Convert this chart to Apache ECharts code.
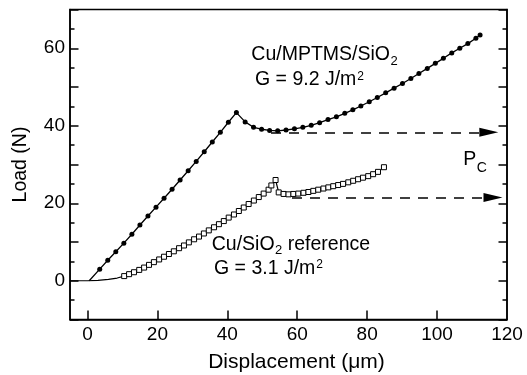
<!DOCTYPE html>
<html><head><meta charset="utf-8">
<script src="https://cdn.jsdelivr.net/npm/echarts@6/dist/echarts.min.js"></script>
<style>html,body{margin:0;padding:0;background:#fff}#c{width:527px;height:375px}</style>
</head><body><div id="c"></div>
<script>
// ---- data ----
const xTickValues = [0, 20, 40, 60, 80, 100, 120];
const xTickMarks = [0, 20, 40, 60, 80, 100];
const yLabelValues = [0, 20, 40, 60];

// Cu/MPTMS/SiO2 curve
const upperStartX = [0.5];
const upperStartY = [0];
const upperX = [3.5,5.8,8.1,10.4,12.7,15.0,17.3,19.6,21.9,24.2,26.5,28.8,31.1,33.4,35.7,38.0,40.3,42.6,
  45.1,47.5,49.8,52.1,54.4,56.8,59.2,61.6,64.0,66.4,68.8,71.2,73.6,75.9,78.2,80.6,82.9,85.3,87.7,90.1,
  92.5,94.8,97.2,99.5,101.8,104.2,106.5,108.8,111.1,112.3];
const upperY = [3.0,5.3,7.5,9.7,12.0,14.4,16.7,19.0,21.3,23.6,26.0,28.4,30.8,33.3,35.8,38.3,40.9,43.4,
  41.0,39.6,39.1,38.8,38.7,38.9,39.2,39.6,40.1,40.8,41.6,42.3,43.2,44.1,45.1,46.2,47.3,48.5,49.7,50.9,
  52.2,53.5,54.8,56.1,57.4,58.8,60.0,61.2,62.6,63.4];

// Cu/SiO2 reference curve (lead-in line, then square markers)
const leadX = [-5, 0, 3, 6, 8.5];
const leadY = [0, 0, 0.1, 0.35, 0.7];
const lowerX = [10.5,11.9,13.3,14.8,16.2,17.6,19.0,20.5,21.9,23.3,24.7,26.2,27.6,29.0,30.5,31.9,33.3,34.7,
  36.2,37.6,39.0,40.4,41.9,43.3,44.7,46.1,47.6,49.0,50.4,51.8,52.6,53.8,54.7,56.1,57.5,58.9,60.3,61.8,
  63.2,64.6,66.0,67.5,68.9,70.3,71.7,73.1,74.6,76.0,77.4,78.8,80.3,81.7,83.1,84.8];
const lowerY = [1.2,1.7,2.2,2.8,3.4,4.1,4.8,5.5,6.2,6.9,7.6,8.4,9.1,9.9,10.7,11.4,12.2,13.0,
  13.8,14.6,15.4,16.3,17.1,18.0,18.9,19.8,20.7,21.6,22.5,23.5,24.6,26.0,22.8,22.4,22.3,22.4,22.5,22.7,
  22.9,23.2,23.5,23.8,24.1,24.4,24.7,25.0,25.4,25.8,26.2,26.6,27.0,27.5,28.1,29.3];

// Pc dashed arrows: [x start, x end (arrow centre), y]
const arrowUpper = [52.5, 114.8, 38.3];
const arrowLower = [58.5, 116.0, 21.5];

// ---- chart ----
const FONT = '"Liberation Sans", Arial, Helvetica, sans-serif';
const zip = (xs, ys) => xs.map((x, i) => [x, ys[i]]);
const upperData = zip(upperStartX, upperStartY).concat(zip(upperX, upperY));
const lowerData = zip(leadX, leadY).concat(zip(lowerX, lowerY));

const mctx = document.createElement('canvas').getContext('2d');
function tw(s, fs) { mctx.font = fs + 'px ' + FONT; return mctx.measureText(s).width; }
// place text by its baseline
function T(s, x, base, fs, extra) {
  return Object.assign({
    type: 'text', x: x, y: base - 0.3465 * fs, silent: true,
    style: { text: s, font: fs + 'px ' + FONT, fill: '#000', align: 'left', verticalAlign: 'middle' }
  }, extra || {});
}
const FS = 19.5, SUB = 13, SUP = 12;
const g = [];
// Cu/MPTMS/SiO2
(function(){
  const x0 = 251.3, b = 61.7, s = 'Cu/MPTMS/SiO';
  g.push(T(s, x0, b, FS));
  g.push(T('2', x0 + tw(s, FS) + 0.5, b + 4, SUB));
})();
// G = 9.2 J/m2
(function(){
  const x0 = 255, b = 86.7, s = 'G = 9.2 J/m';
  g.push(T(s, x0, b, FS));
  g.push(T('2', x0 + tw(s, FS) + 0.8, b - 6, SUP));
})();
// Cu/SiO2 reference
(function(){
  const x0 = 211.7, b = 251.3, s1 = 'Cu/SiO', s2 = ' reference';
  g.push(T(s1, x0, b, FS));
  const xs = x0 + tw(s1, FS) + 0.5;
  g.push(T('2', xs, b + 4, SUB));
  g.push(T(s2, xs + tw('2', SUB), b, FS));
})();
// G = 3.1 J/m2
(function(){
  const x0 = 214, b = 275, s = 'G = 3.1 J/m';
  g.push(T(s, x0, b, FS));
  g.push(T('2', x0 + tw(s, FS) + 0.8, b - 6, SUP));
})();
// Pc
(function(){
  const x0 = 463.3, b = 166.7;
  g.push(T('P', x0, b, FS));
  g.push(T('C', x0 + tw('P', FS) + 0.5, b + 6.5, 14));
})();
// axis names
g.push({ type: 'text', x: 296.5, y: 362, silent: true,
  style: { text: 'Displacement (\u03bcm)', font: '21px ' + FONT, fill: '#000', align: 'center', verticalAlign: 'middle' } });
g.push({ type: 'text', x: 20.5, y: 164.5, rotation: Math.PI / 2, silent: true,
  style: { text: 'Load (N)', font: '19.5px ' + FONT, fill: '#000', align: 'center', verticalAlign: 'middle' } });

const axisLineStyle = { color: '#000', width: 1.5 };
const yAxisBase = (pos, showLabel) => ({
  type: 'value', min: -10, max: 70, interval: 10, position: pos,
  axisLine: { show: true, onZero: false, lineStyle: axisLineStyle },
  axisTick: { show: true, inside: true, length: 8.5, lineStyle: axisLineStyle },
  minorTick: { show: true, splitNumber: 2, length: 4.5, lineStyle: axisLineStyle },
  axisLabel: { show: showLabel, customValues: yLabelValues, fontSize: 19, color: '#000', margin: 5, fontFamily: FONT },
  splitLine: { show: false }, minorSplitLine: { show: false }
});

const chart = echarts.init(document.getElementById('c'), null, { renderer: 'canvas' });
chart.setOption({
  animation: false,
  backgroundColor: '#fff',
  grid: { left: 70, right: 20, top: 9.5, bottom: 55.5, show: true, borderColor: '#000', borderWidth: 1.5 },
  xAxis: {
    type: 'value', min: -5, max: 120, position: 'bottom',
    axisLine: { show: true, onZero: false, lineStyle: axisLineStyle },
    axisTick: { show: true, inside: true, length: 9, customValues: xTickMarks, lineStyle: axisLineStyle },
    axisLabel: { customValues: xTickValues, fontSize: 19, color: '#000', margin: 6, fontFamily: FONT },
    splitLine: { show: false }
  },
  yAxis: [yAxisBase('left', true), yAxisBase('right', false)],
  series: [
    {
      type: 'line', data: lowerData, z: 3, silent: true,
      symbol: (v, p) => (p.dataIndex < leadX.length ? 'none' : 'rect'),
      symbolSize: 5, showAllSymbol: true,
      itemStyle: { color: '#fff', borderColor: '#000', borderWidth: 1 },
      lineStyle: { color: '#000', width: 1.2 },
      emphasis: { disabled: true },
      markLine: {
        silent: true, animation: false, symbol: ['none', 'triangle'], symbolSize: [9, 19],
        label: { show: false },
        lineStyle: { color: '#000', width: 1.5, type: [10, 8] },
        emphasis: { disabled: true },
        data: [
          [{ coord: [arrowUpper[0], arrowUpper[2]] }, { coord: [arrowUpper[1], arrowUpper[2]] }],
          [{ coord: [arrowLower[0], arrowLower[2]] }, { coord: [arrowLower[1], arrowLower[2]] }]
        ]
      }
    },
    {
      type: 'line', data: upperData, z: 4, silent: true,
      symbol: (v, p) => (p.dataIndex < upperStartX.length ? 'none' : 'circle'),
      symbolSize: 5, showAllSymbol: true,
      itemStyle: { color: '#000' },
      lineStyle: { color: '#000', width: 1.3 },
      emphasis: { disabled: true }
    }
  ],
  graphic: g
});
</script></body></html>
